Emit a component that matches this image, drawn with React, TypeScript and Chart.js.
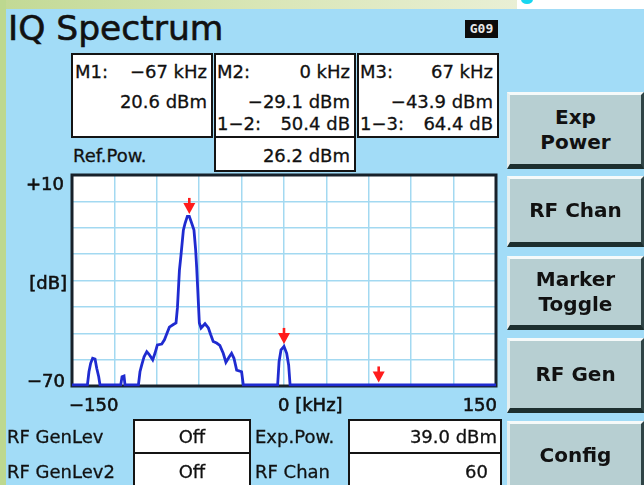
import React, { useEffect, useRef } from "react";
import { Chart, registerables } from "chart.js";

Chart.register(...registerables);

// ---- data ----
const traceFreq = [
  -150, -139.1, -138, -136.8, -135.4, -133.7, -132.5, -131.1, -130.2,
  -115.5, -114.6, -113.2, -112.5, -103, -101.9, -100.7, -99, -97.1, -95.5,
  -92.9, -91.3, -89.6, -86.5, -84.6, -83, -81.1, -78.3, -76.4, -75.4, -74,
  -72.9, -71.2, -70, -68.4, -67, -65.3, -63.7, -62.5, -61.8, -61.1, -59.9,
  -58.7, -55.9, -53.5, -51.9, -50.1, -47.7, -45.4, -43, -41.1, -38.7, -37.1,
  -35.4, -33.5, -30, -28.8, -4.5, -3.5, -2.1, 0, 1.9, 3.3, 4.3, 150,
];
const traceLevel = [
  -69.6, -69.6, -64.6, -61.4, -59.5, -59.8, -63.3, -66.5, -69.6,
  -69.6, -66.5, -66.2, -69.6, -69.6, -64.6, -62.1, -58.9, -57.0, -58.0,
  -60.1, -57.6, -54.4, -54.1, -52.5, -50.3, -47.7, -46.7, -46.1, -40.3, -26.2,
  -20.5, -10.9, -8.3, -5.7, -5.7, -8.3, -10.9, -18.5, -24.9, -32.6, -46.1,
  -48.0, -46.4, -48.0, -50.5, -53.1, -53.7, -54.6, -57.6, -61.0, -58.9, -57.6,
  -59.5, -64.0, -64.6, -69.6, -69.6, -60.8, -56.3, -55.0, -57.6, -62.1, -69.6, -69.6,
];
const markerFreq = [-67, 0, 67];
const markerLevel = [-5.7, -55.0, -69.6];

const xMin = -150;
const xMax = 150;
const xStep = 30;
const yMin = -70;
const yMax = 10;
const yStep = 10;
const xTickLabels = ["\u2212150", "0 [kHz]", "150"];
const yTickLabels = ["+10", "[dB]", "\u221270"];

const m1Lines = ["M1:", "\u221267 kHz", "20.6 dBm"];
const m2Lines = ["M2:", "0 kHz", "\u221229.1 dBm", "1\u22122:", "50.4 dB"];
const m3Lines = ["M3:", "67 kHz", "\u221243.9 dBm", "1\u22123:", "64.4 dB"];
const refPowLabel = "Ref.Pow.";
const refPowValue = "26.2 dBm";
const bottomLabels = ["RF GenLev", "RF GenLev2", "Exp.Pow.", "RF Chan"];
const bottomValues = ["Off", "Off", "39.0 dBm", "60"];
const buttonLabels = [["Exp", "Power"], ["RF Chan"], ["Marker", "Toggle"], ["RF Gen"], ["Config"]];
const title = "IQ Spectrum";
const badge = "G09";

// ---- helpers ----
const FONT = '"DejaVu Sans", "Liberation Sans", sans-serif';

type TProps = { x: number; y: number; s?: number; a?: "left" | "right" | "center"; w?: number | string; c?: string; children: React.ReactNode };
function T({ x, y, s = 18, a = "left", w = 400, c = "#111", children }: TProps) {
  const style: React.CSSProperties = {
    position: "absolute",
    top: y - 0.846 * s,
    fontSize: s,
    lineHeight: s + "px",
    fontWeight: w as any,
    color: c,
    whiteSpace: "nowrap",
    fontFamily: FONT,
    WebkitTextStroke: (s > 24 ? 0.6 : 0.3) + "px " + c,
  };
  if (a === "left") style.left = x;
  else if (a === "right") style.right = 644 - x;
  else {
    style.left = x - 150;
    style.width = 300;
    style.textAlign = "center";
  }
  return <div style={style}>{children}</div>;
}

function Box({ l, t, r, b }: { l: number; t: number; r: number; b: number }) {
  return (
    <div
      style={{
        position: "absolute",
        left: l,
        top: t,
        width: r - l,
        height: b - t,
        boxSizing: "border-box",
        border: "2px solid #141414",
        background: "#ffffff",
      }}
    />
  );
}

function Btn({ top, h, lines }: { top: number; h: number; lines: string[] }) {
  return (
    <div
      style={{
        position: "absolute",
        left: 507,
        top,
        width: 137,
        height: h,
        boxSizing: "border-box",
        background: "#b7cfd2",
        borderTop: "3px solid #f6fafa",
        borderLeft: "3px solid #e6efef",
        borderBottom: "5px solid #1d2f2f",
        borderRight: "3px solid #2f4446",
        display: "flex",
        flexDirection: "column",
        alignItems: "center",
        justifyContent: "center",
        fontFamily: FONT,
        fontWeight: 700,
        fontSize: 20,
        lineHeight: "25px",
        color: "#111",
      }}
    >
      {lines.map((l) => (
        <div key={l}>{l}</div>
      ))}
    </div>
  );
}

const spectrumPlugin = {
  id: "spectrumDecor",
  beforeDraw(chart: any) {
    const { ctx, chartArea } = chart;
    const { left, top, right, bottom } = chartArea;
    ctx.save();
    ctx.fillStyle = "#ffffff";
    ctx.fillRect(left, top, right - left, bottom - top);
    ctx.restore();
  },
  beforeDatasetsDraw(chart: any) {
    const { ctx, chartArea } = chart;
    const { left, top, right, bottom } = chartArea;
    ctx.save();
    ctx.strokeStyle = "#17212a";
    ctx.lineWidth = 3;
    ctx.strokeRect(left, top, right - left, bottom - top);
    ctx.restore();
  },
  afterDatasetsDraw(chart: any) {
    const { ctx, chartArea, scales } = chart;
    const xs = scales.x;
    const ys = scales.y;
    ctx.save();
    // marker arrows
    ctx.fillStyle = "#ff1c1c";
    for (let i = 0; i < markerFreq.length; i++) {
      const px = xs.getPixelForValue(markerFreq[i]);
      const tip = ys.getPixelForValue(markerLevel[i]) - 2.5;
      ctx.beginPath();
      ctx.moveTo(px - 6, tip - 11);
      ctx.lineTo(px + 6, tip - 11);
      ctx.lineTo(px, tip);
      ctx.closePath();
      ctx.fill();
      ctx.fillRect(px - 1.3, tip - 16, 2.6, 7);
    }
    // axis labels
    ctx.fillStyle = "#111";
    ctx.strokeStyle = "#111";
    ctx.lineWidth = 0.6;
    ctx.font = '18px "DejaVu Sans"';
    ctx.textBaseline = "alphabetic";
    const put = (t: string, x: number, y: number) => {
      ctx.fillText(t, x, y);
      ctx.strokeText(t, x, y);
    };
    const yTop = ys.getPixelForValue(yMax);
    const yBot = ys.getPixelForValue(yMin);
    ctx.textAlign = "right";
    put(yTickLabels[0], chartArea.left - 8, yTop + 15);
    put(yTickLabels[1], chartArea.left - 5, (yTop + yBot) / 2 + 8);
    put(yTickLabels[2], chartArea.left - 7, yBot + 1);
    const base = chartArea.bottom + 25;
    ctx.textAlign = "left";
    put(xTickLabels[0], xs.getPixelForValue(xMin) - 3, base);
    put(xTickLabels[1], xs.getPixelForValue(0) - 6, base);
    ctx.textAlign = "right";
    put(xTickLabels[2], xs.getPixelForValue(xMax) + 1, base);
    ctx.restore();
  },
};

function SpectrumChart() {
  const ref = useRef<HTMLCanvasElement>(null);
  useEffect(() => {
    if (!ref.current) return;
    const chart = new Chart(ref.current, {
      type: "line",
      data: {
        datasets: [
          {
            data: traceFreq.map((f, i) => ({ x: f, y: traceLevel[i] })),
            borderColor: "#1f2bd0",
            borderWidth: 2.8,
            pointRadius: 0,
            tension: 0,
            fill: false,
            clip: 6,
          } as any,
        ],
      },
      options: {
        animation: false,
        responsive: false,
        events: [],
        layout: { padding: { left: 72, top: 10, right: 14, bottom: 34 } },
        plugins: { legend: { display: false }, tooltip: { enabled: false } },
        scales: {
          x: {
            type: "linear",
            min: xMin,
            max: xMax,
            ticks: { stepSize: xStep, display: false },
            grid: { color: "#a3d9f1", lineWidth: 1.5, drawTicks: false },
            border: { display: false },
          },
          y: {
            type: "linear",
            min: yMin,
            max: yMax,
            ticks: { stepSize: yStep, display: false },
            grid: { color: "#a3d9f1", lineWidth: 1.5, drawTicks: false },
            border: { display: false },
          },
        },
      },
      plugins: [spectrumPlugin],
    });
    return () => chart.destroy();
  }, []);
  return (
    <div style={{ position: "absolute", left: 0, top: 165, width: 510, height: 255 }}>
      <canvas ref={ref} width={510} height={255} style={{ width: 510, height: 255 }} />
    </div>
  );
}

export default function App() {
  const btnTops = [92, 176, 256, 338, 421];
  const btnHeights = [77, 71, 74, 75, 70];
  return (
    <div
      style={{
        position: "absolute",
        left: 0,
        top: 0,
        width: 644,
        height: 485,
        overflow: "hidden",
        background: "#a2dcf7",
        fontFamily: FONT,
      }}
    >
      {/* top strip */}
      <div style={{ position: "absolute", left: 0, top: 0, width: 517, height: 9, background: "linear-gradient(90deg, #c2d995 0%, #d9e6b6 50%, #e9efd5 100%)" }} />
      <div style={{ position: "absolute", left: 517, top: 0, width: 127, height: 9, background: "#ffffff" }} />
      <div style={{ position: "absolute", left: 521, top: -5, width: 12, height: 9, borderRadius: "50%", background: "#17d6f0" }} />
      {/* left strip */}
      <div style={{ position: "absolute", left: 0, top: 0, width: 6, height: 485, background: "#bdd890" }} />

      <T x={8} y={40} s={34.5}>{title}</T>
      <div
        style={{
          position: "absolute",
          left: 465,
          top: 20,
          width: 33,
          height: 18,
          background: "#0c0c0c",
          color: "#e8e8e8",
          fontFamily: '"DejaVu Sans Mono", monospace',
          fontWeight: 700,
          fontSize: 13,
          lineHeight: "18px",
          textAlign: "center",
        }}
      >
        {badge}
      </div>

      {/* marker boxes */}
      <Box l={71} t={53} r={213} b={138} />
      <Box l={214} t={53} r={356} b={138} />
      <Box l={214} t={136} r={356} b={172} />
      <Box l={357} t={53} r={499} b={138} />

      <T x={75} y={78}>{m1Lines[0]}</T>
      <T x={207} y={78} a="right">{m1Lines[1]}</T>
      <T x={207} y={108} a="right">{m1Lines[2]}</T>

      <T x={217} y={78}>{m2Lines[0]}</T>
      <T x={350} y={78} a="right">{m2Lines[1]}</T>
      <T x={350} y={108} a="right">{m2Lines[2]}</T>
      <T x={217} y={130}>{m2Lines[3]}</T>
      <T x={350} y={130} a="right">{m2Lines[4]}</T>

      <T x={360} y={78}>{m3Lines[0]}</T>
      <T x={493} y={78} a="right">{m3Lines[1]}</T>
      <T x={493} y={108} a="right">{m3Lines[2]}</T>
      <T x={360} y={130}>{m3Lines[3]}</T>
      <T x={493} y={130} a="right">{m3Lines[4]}</T>

      <T x={73} y={162}>{refPowLabel}</T>
      <T x={350} y={162} a="right">{refPowValue}</T>

      <SpectrumChart />

      {/* bottom fields */}
      <Box l={133} t={419} r={251} b={454} />
      <Box l={133} t={452} r={251} b={490} />
      <Box l={348} t={419} r={502} b={454} />
      <Box l={348} t={452} r={502} b={490} />
      <T x={7} y={443}>{bottomLabels[0]}</T>
      <T x={7} y={478}>{bottomLabels[1]}</T>
      <T x={192} y={443} a="center">{bottomValues[0]}</T>
      <T x={192} y={478} a="center">{bottomValues[1]}</T>
      <T x={255} y={443}>{bottomLabels[2]}</T>
      <T x={255} y={478}>{bottomLabels[3]}</T>
      <T x={497} y={443} a="right">{bottomValues[2]}</T>
      <T x={488} y={478} a="right">{bottomValues[3]}</T>

      {buttonLabels.map((lines, i) => (
        <Btn key={i} top={btnTops[i]} h={btnHeights[i]} lines={lines} />
      ))}
    </div>
  );
}
